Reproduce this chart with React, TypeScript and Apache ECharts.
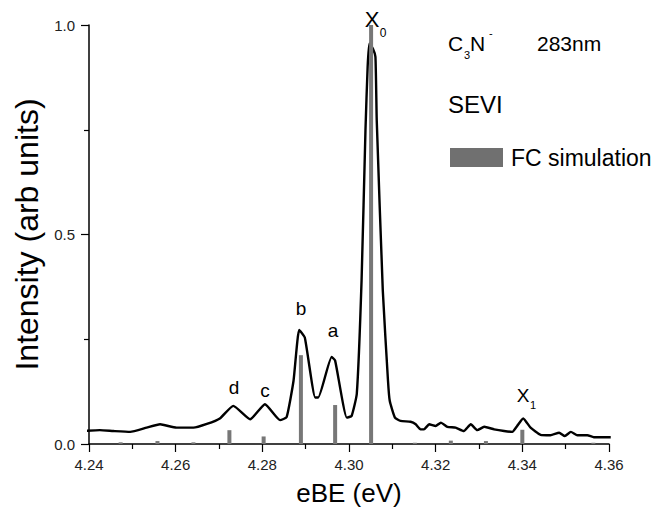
import React, { useEffect, useRef } from "react";
import * as echarts from "echarts";

// Photoelectron spectrum (SEVI), eBE in eV
const eBE = [
  4.2386, 4.2425, 4.2456, 4.2495, 4.2533, 4.2564, 4.2602, 4.2641, 4.2672, 4.2702,
  4.2733, 4.2772, 4.2806, 4.2841, 4.2856, 4.2872, 4.2885, 4.2898, 4.2922, 4.2929,
  4.296, 4.2968, 4.2995, 4.3006, 4.3018, 4.3029, 4.3038, 4.3043, 4.3047, 4.3055,
  4.3061, 4.3064, 4.3078, 4.309, 4.3094, 4.3106, 4.3119, 4.3142, 4.3154, 4.3165,
  4.3173, 4.3185, 4.32, 4.3212, 4.3227, 4.3246, 4.3265, 4.3281, 4.3296, 4.3312,
  4.3335, 4.3358, 4.3377, 4.3388, 4.3402, 4.3419, 4.3442, 4.3465, 4.3485, 4.3498,
  4.3512, 4.3527, 4.355, 4.3565, 4.3604,
];
const intensity = [
  0.031, 0.033, 0.031, 0.029, 0.039, 0.047, 0.039, 0.039, 0.048, 0.061,
  0.091, 0.059, 0.095, 0.057, 0.064, 0.151, 0.272, 0.254, 0.111, 0.111,
  0.208, 0.199, 0.063, 0.067, 0.12, 0.39, 0.749, 0.9, 0.956, 0.944,
  0.924, 0.773, 0.366, 0.151, 0.103, 0.063, 0.055, 0.053, 0.047, 0.035,
  0.035, 0.047, 0.043, 0.051, 0.041, 0.039, 0.031, 0.047, 0.033, 0.041,
  0.035, 0.031, 0.029, 0.043, 0.061, 0.039, 0.022, 0.021, 0.027, 0.019,
  0.029, 0.021, 0.021, 0.016, 0.016,
];

// Franck-Condon simulation stick spectrum
const fcPos = [4.2473, 4.2558, 4.2641, 4.2724, 4.2803, 4.2889, 4.2968, 4.3051, 4.3152, 4.3235, 4.3316, 4.34, 4.3564];
const fcInt = [0.004, 0.007, 0.004, 0.033, 0.018, 0.212, 0.093, 1.0, 0.003, 0.008, 0.007, 0.034, 0.003];

const xTicks = ["4.24", "4.26", "4.28", "4.30", "4.32", "4.34", "4.36"];
const yTicks = ["0.0", "0.5", "1.0"];

const FONT = "'Liberation Sans', Arial, sans-serif";

export default function App() {
  const ref = useRef<HTMLDivElement>(null);
  useEffect(() => {
    if (!ref.current) return;
    const chart = echarts.init(ref.current, null, { renderer: "svg" });
    const txt = (text: string, x: number, y: number, size: number, align = "center") => ({
      type: "text",
      x,
      y,
      style: {
        text,
        fill: "#000",
        font: `${size}px ${FONT}`,
        align,
        verticalAlign: "middle",
      },
    });
    chart.setOption({
      animation: false,
      backgroundColor: "#fff",
      grid: { left: 89, right: 44, top: 25, bottom: 70, containLabel: false },
      xAxis: {
        type: "value",
        min: 4.24,
        max: 4.36,
        interval: 0.02,
        name: "eBE (eV)",
        nameLocation: "middle",
        nameGap: 36,
        nameTextStyle: { fontSize: 26, color: "#000", fontFamily: FONT },
        axisLine: { show: true, onZero: false, lineStyle: { color: "#000", width: 1.5 } },
        axisTick: { show: true, inside: false, length: 8, lineStyle: { color: "#000", width: 1.2 } },
        minorTick: { show: true, splitNumber: 2, length: 5, lineStyle: { color: "#000", width: 1.2 } },
        splitLine: { show: false },
        axisLabel: {
          margin: 13,
          fontSize: 15,
          color: "#222",
          fontFamily: FONT,
          formatter: (v: number) => xTicks.find((t) => Math.abs(parseFloat(t) - v) < 1e-6) ?? "",
        },
      },
      yAxis: {
        type: "value",
        min: 0,
        max: 1,
        interval: 0.5,
        name: "Intensity (arb units)",
        nameLocation: "middle",
        nameGap: 42,
        nameTextStyle: { fontSize: 32, color: "#000", fontFamily: FONT },
        axisLine: { show: true, lineStyle: { color: "#000", width: 1.5 } },
        axisTick: { show: true, inside: false, length: 8, lineStyle: { color: "#000", width: 1.2 } },
        minorTick: { show: true, splitNumber: 2, length: 5, lineStyle: { color: "#000", width: 1.2 } },
        splitLine: { show: false },
        axisLabel: {
          margin: 14,
          fontSize: 15,
          color: "#222",
          fontFamily: FONT,
          formatter: (v: number) => yTicks.find((t) => Math.abs(parseFloat(t) - v) < 1e-6) ?? "",
        },
      },
      series: [
        {
          type: "line",
          name: "SEVI",
          data: eBE.map((x, i) => [x, intensity[i]]),
          showSymbol: false,
          symbol: "none",
          smooth: 0.15,
          clip: false,
          lineStyle: { color: "#000", width: 2.4, join: "round" },
          z: 2,
        },
        {
          type: "bar",
          name: "FC simulation",
          data: fcPos.map((x, i) => [x, fcInt[i]]),
          barWidth: 4,
          itemStyle: { color: "#777" },
          z: 3,
        },
      ],
      graphic: [
        txt("d", 234, 387, 19),
        txt("c", 265, 390, 19),
        txt("b", 301, 308, 19),
        txt("a", 333, 330, 19),
        txt("X", 372, 19, 22),
        txt("0", 383, 33, 12),
        txt("X", 523, 395, 19),
        txt("1", 533, 405, 11),
        txt("C", 448, 43, 21, "left"),
        txt("3", 464, 55, 11, "left"),
        txt("N", 470, 43, 21, "left"),
        txt("-", 489, 33, 11, "left"),
        txt("283nm", 537, 43, 21, "left"),
        txt("SEVI", 448, 104, 24, "left"),
        {
          type: "rect",
          shape: { x: 450, y: 148, width: 53, height: 19 },
          style: { fill: "#707070" },
        },
        txt("FC simulation", 511, 158, 23, "left"),
      ],
    });
    return () => chart.dispose();
  }, []);
  return <div ref={ref} style={{ position: "fixed", left: 0, top: 0, width: 653, height: 514 }} />;
}
